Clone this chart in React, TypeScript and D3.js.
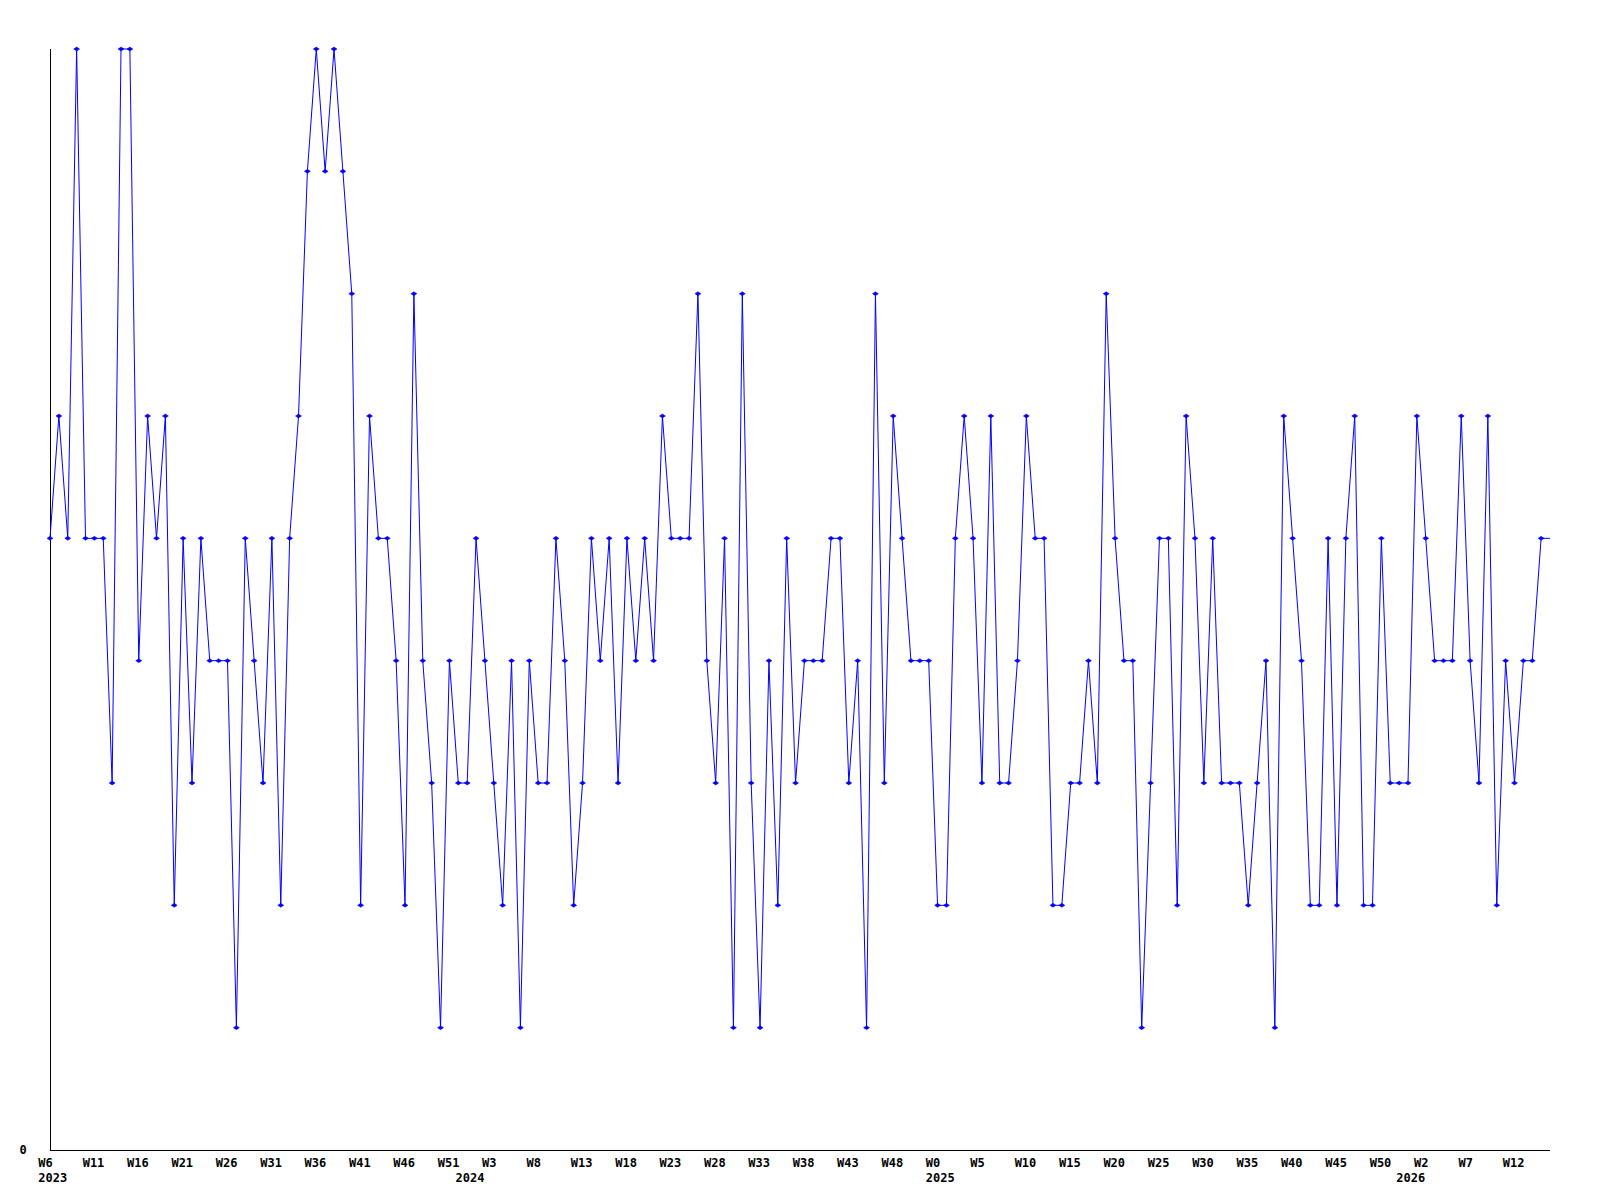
import React from "react";
import * as d3 from "d3";

// Weekly values, starting at W6 2023
const values: number[] = [
  5, 6, 5, 9, 5, 5, 5, 3, 9, 9,
  4, 6, 5, 6, 2, 5, 3, 5, 4, 4,
  4, 1, 5, 4, 3, 5, 2, 5, 6, 8,
  9, 8, 9, 8, 7, 2, 6, 5, 5, 4,
  2, 7, 4, 3, 1, 4, 3, 3, 5, 4,
  3, 2, 4, 1, 4, 3, 3, 5, 4, 2,
  3, 5, 4, 5, 3, 5, 4, 5, 4, 6,
  5, 5, 5, 7, 4, 3, 5, 1, 7, 3,
  1, 4, 2, 5, 3, 4, 4, 4, 5, 5,
  3, 4, 1, 7, 3, 6, 5, 4, 4, 4,
  2, 2, 5, 6, 5, 3, 6, 3, 3, 4,
  6, 5, 5, 2, 2, 3, 3, 4, 3, 7,
  5, 4, 4, 1, 3, 5, 5, 2, 6, 5,
  3, 5, 3, 3, 3, 2, 3, 4, 1, 6,
  5, 4, 2, 2, 5, 2, 5, 6, 2, 2,
  5, 3, 3, 3, 6, 5, 4, 4, 4, 6,
  4, 3, 6, 2, 4, 3, 4, 4, 5,
];

// x tick labels, one every 5 weeks
const weekLabels: string[] = [
  "W6", "W11", "W16", "W21", "W26", "W31", "W36", "W41", "W46", "W51",
  "W3", "W8", "W13", "W18", "W23", "W28", "W33", "W38", "W43", "W48",
  "W0", "W5", "W10", "W15", "W20", "W25", "W30", "W35", "W40", "W45",
  "W50", "W2", "W7", "W12",
];
const weekLabelEvery = 5;

const yearLabels: string[] = ["2023", "2024", "2025", "2026"];
const yearStartIndex: number[] = [0, 47, 100, 153];

const yTickLabels: string[] = ["0"];
const yMax = 9;

export default function App() {
  const W = 1600;
  const H = 1200;
  const left = 50;
  const right = 1550;
  const top = 49;
  const bottom = 1150;

  const x = d3.scaleLinear().domain([0, values.length]).range([left, right]);
  const y = d3.scaleLinear().domain([0, yMax]).range([bottom, top]);

  const pts: [number, number][] = values.map((v, i) => [x(i), y(v)]);
  pts.push([x(values.length), y(values[values.length - 1])]);
  const line = d3.line<[number, number]>().x((d) => d[0]).y((d) => d[1]);

  const font = "'DejaVu Sans Mono', 'Liberation Mono', monospace";

  return (
    <svg
      width={W}
      height={H}
      style={{ position: "fixed", left: 0, top: 0, background: "#fff" }}
      xmlns="http://www.w3.org/2000/svg"
    >
      <rect x={0} y={0} width={W} height={H} fill="#fff" />
      {/* axes */}
      <line x1={left + 0.5} y1={top} x2={left + 0.5} y2={bottom + 0.5} stroke="#000" strokeWidth={1} shapeRendering="crispEdges" />
      <line x1={left} y1={bottom + 0.5} x2={right} y2={bottom + 0.5} stroke="#000" strokeWidth={1} shapeRendering="crispEdges" />

      {/* y tick label */}
      {yTickLabels.map((t, i) => (
        <text key={"y" + i} x={23} y={y(+t) + 4} textAnchor="middle" fontFamily={font} fontWeight="bold" fontSize={12} fill="#000">
          {t}
        </text>
      ))}

      {/* x tick labels */}
      {weekLabels.map((t, k) => (
        <text key={"w" + k} x={x(k * weekLabelEvery) - 11.7} y={1167} fontFamily={font} fontWeight="bold" fontSize={12} fill="#000">
          {t}
        </text>
      ))}
      {yearLabels.map((t, k) => (
        <text key={"yr" + k} x={x(yearStartIndex[k]) - 11.7} y={1182} fontFamily={font} fontWeight="bold" fontSize={12} fill="#000">
          {t}
        </text>
      ))}

      {/* series line */}
      <path d={line(pts) || ""} fill="none" stroke="#0000ff" strokeWidth={1} />

      {/* markers */}
      {values.map((v, i) => {
        const cx = x(i);
        const cy = y(v);
        return (
          <path
            key={"m" + i}
            d={`M${cx - 3},${cy} L${cx},${cy - 2} L${cx + 3},${cy} L${cx},${cy + 2} Z`}
            fill="#0000ff"
            stroke="#0000ff"
            strokeWidth={0.5}
          />
        );
      })}
    </svg>
  );
}
